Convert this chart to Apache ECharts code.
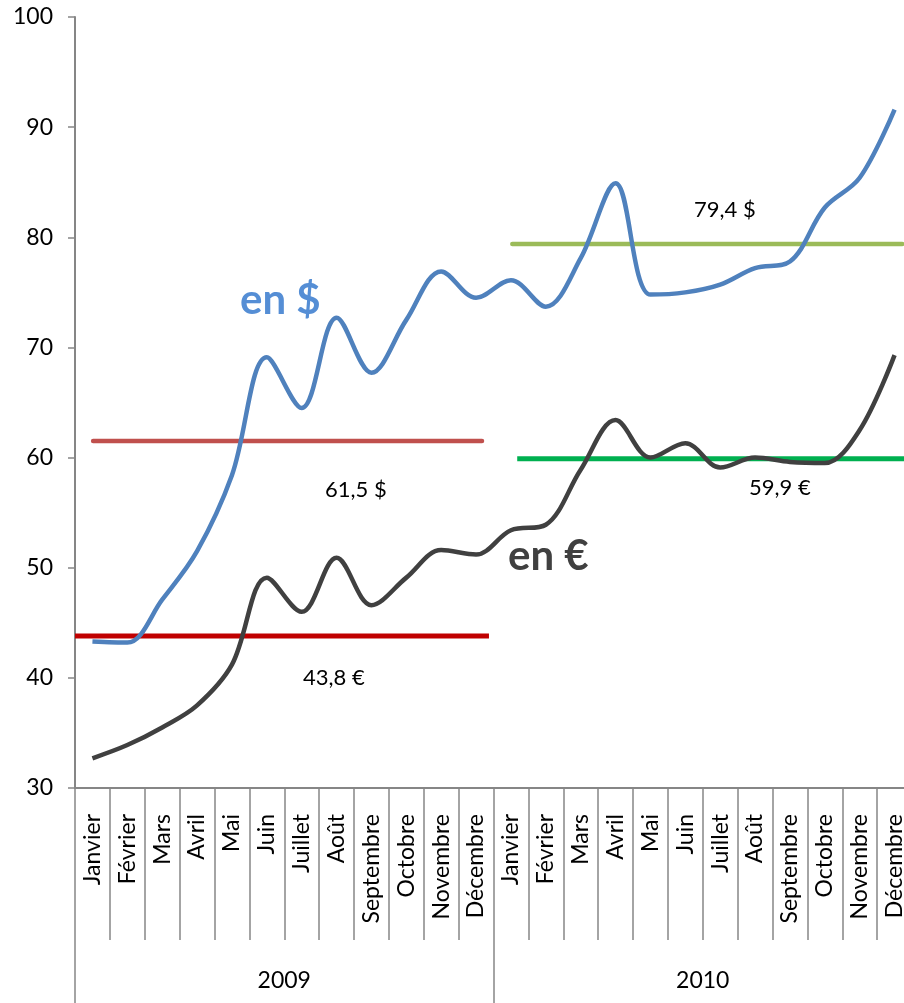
<!DOCTYPE html>
<html>
<head>
<meta charset="utf-8">
<script src="https://cdn.jsdelivr.net/npm/echarts@6/dist/echarts.min.js"></script>
<style>
  html, body { margin: 0; padding: 0; background: #fff; overflow: hidden; }
  #chart { width: 912px; height: 1003px; }
</style>
</head>
<body>
<div id="chart"></div>
<script>
// Monthly prices in dollars and euros, 2009-2010
const years = ['2009', '2010'];
const months = ['Janvier', 'Février', 'Mars', 'Avril', 'Mai', 'Juin', 'Juillet', 'Août', 'Septembre', 'Octobre', 'Novembre', 'Décembre'];
const priceUSD = [43.3, 43.2, 47.1, 51.5, 58.4, 69.1, 64.5, 72.7, 67.7, 72.5, 76.9, 74.5,
                  76.1, 73.7, 78.1, 84.9, 74.8, 75.0, 75.7, 77.2, 77.8, 82.7, 85.4, 91.6];
const priceEUR = [32.7, 33.9, 35.5, 37.5, 41.2, 49.1, 46.0, 50.9, 46.6, 49.1, 51.6, 51.2,
                  53.4, 53.9, 58.9, 63.4, 60.0, 61.3, 59.1, 60.0, 59.6, 59.5, 62.5, 69.3];
// Yearly averages as labelled
const avgUSD = [61.5, 79.4];
const avgEUR = [43.8, 59.9];
const yTicks = [30, 40, 50, 60, 70, 80, 90, 100];

const categories = [];
years.forEach(() => months.forEach(m => categories.push(m)));

const FONT = 'Lato, "Open Sans", sans-serif';
const AXIS_GREY = '#868686';

// Horizontal extent (in month slots) and style of each average bar
const avgStyles = [
  { value: avgUSD[0], from: 0.52, to: 11.67, color: '#C0504D', width: 4.5, cap: 'round' },
  { value: avgEUR[0], from: 0.0,  to: 11.87, color: '#C00000', width: 5,   cap: 'butt'  },
  { value: avgUSD[1], from: 12.54, to: 23.72, color: '#9BBB59', width: 4.5, cap: 'round' },
  { value: avgEUR[1], from: 12.68, to: 24.0, color: '#00B050', width: 5,   cap: 'butt'  }
];

const fmt = v => v.toFixed(1).replace('.', ',');

const avgSeries = avgStyles.map(s => ({
  type: 'line',
  xAxisIndex: 2,
  yAxisIndex: 0,
  data: [[s.from, s.value], [s.to, s.value]],
  symbol: 'none',
  silent: true,
  lineStyle: { color: s.color, width: s.width, cap: s.cap },
  z: 1
}));

const chart = echarts.init(document.getElementById('chart'), null, { renderer: 'canvas' });

chart.setOption({
  animation: false,
  backgroundColor: '#ffffff',
  grid: { left: 75, top: 17, right: 0, bottom: 215, containLabel: false },
  xAxis: [
    {
      type: 'category',
      data: categories,
      boundaryGap: true,
      position: 'bottom',
      axisLine: { show: true, lineStyle: { color: AXIS_GREY, width: 2 } },
      axisTick: { show: true, interval: 0, length: 152, lineStyle: { color: AXIS_GREY, width: 1.5 } },
      axisLabel: { interval: 0, rotate: 90, margin: 26, color: '#000', fontFamily: FONT, fontSize: 23 },
      splitLine: { show: false }
    },
    {
      type: 'category',
      data: years,
      boundaryGap: true,
      position: 'bottom',
      axisLine: { show: false },
      axisTick: { show: true, interval: 0, length: 215, lineStyle: { color: AXIS_GREY, width: 1.5 } },
      axisLabel: { interval: 0, margin: 181, color: '#000', fontFamily: FONT, fontSize: 23 },
      splitLine: { show: false }
    },
    {
      type: 'value',
      min: 0,
      max: 24,
      show: false
    }
  ],
  yAxis: {
    type: 'value',
    min: yTicks[0],
    max: yTicks[yTicks.length - 1],
    interval: 10,
    axisLine: { show: true, lineStyle: { color: AXIS_GREY, width: 2 } },
    axisTick: { show: true, length: 7, lineStyle: { color: AXIS_GREY, width: 1.5 } },
    axisLabel: { margin: 22, color: '#000', fontFamily: FONT, fontSize: 23 },
    splitLine: { show: false }
  },
  series: [
    ...avgSeries,
    {
      name: 'en $',
      type: 'line',
      data: priceUSD,
      smooth: 0.35,
      symbol: 'none',
      lineStyle: { color: '#4F81BD', width: 4.5 },
      z: 3
    },
    {
      name: 'en €',
      type: 'line',
      data: priceEUR,
      smooth: 0.35,
      symbol: 'none',
      lineStyle: { color: '#404040', width: 4.5 },
      z: 3
    }
  ],
  graphic: [
    { type: 'text', left: 240, top: 279, style: { text: 'en $', fill: '#558ED5', font: 'bold 42px ' + FONT } },
    { type: 'text', left: 508, top: 535, style: { text: 'en €', fill: '#404040', font: 'bold 42px ' + FONT } },
    { type: 'text', left: 325, top: 479, style: { text: fmt(avgUSD[0]) + ' $', fill: '#000', font: '22px ' + FONT } },
    { type: 'text', left: 303, top: 667, style: { text: fmt(avgEUR[0]) + ' €', fill: '#000', font: '22px ' + FONT } },
    { type: 'text', left: 694, top: 199, style: { text: fmt(avgUSD[1]) + ' $', fill: '#000', font: '22px ' + FONT } },
    { type: 'text', left: 749, top: 477, style: { text: fmt(avgEUR[1]) + ' €', fill: '#000', font: '22px ' + FONT } }
  ]
});
</script>
</body>
</html>
